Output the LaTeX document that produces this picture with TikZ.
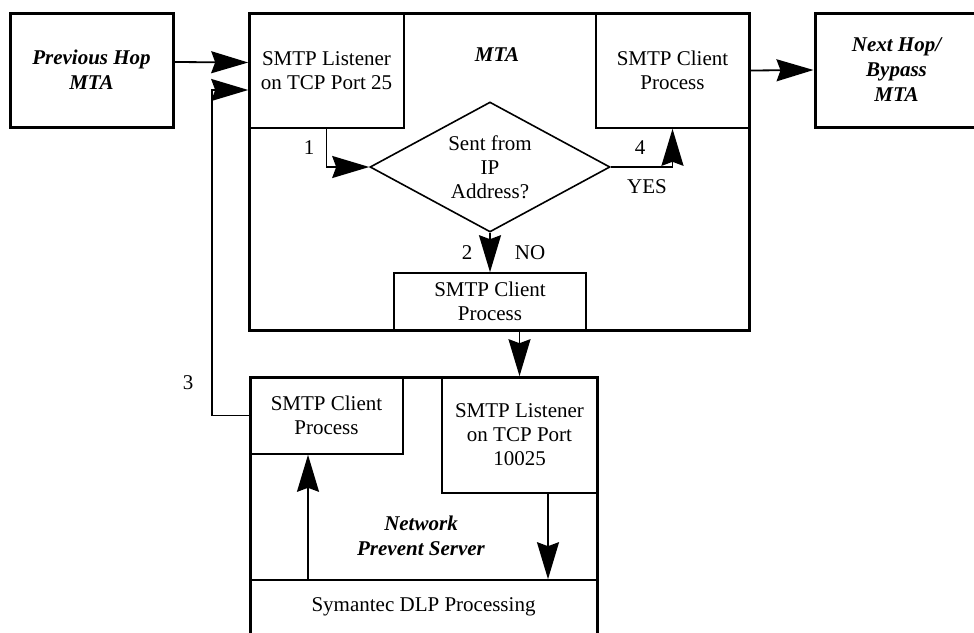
\documentclass[tikz,border=0pt]{standalone}
\usepackage{fontspec}
\setmainfont{Liberation Serif}
\usetikzlibrary{arrows.meta,shapes.geometric}

\begin{document}
\begin{tikzpicture}[
		x=1pt, y=-1pt,
		every node/.style={font=\fontsize{21}{24}\selectfont, align=center, inner sep=0pt},
		outerbox/.style={draw, line width=3pt},
		innerbox/.style={draw, line width=1.6pt},
		title/.style={font=\fontsize{21}{25}\selectfont\bfseries\itshape},
		flow/.style={line width=1.8pt, -{Stealth[length=37pt, width=22pt, inset=4pt]}},
	]
		\useasboundingbox (0,0) rectangle (974,632);

		% outer boxes
		\node[outerbox, title, minimum width=163, minimum height=114] (prevhop) at (91.5,70) {Previous Hop\\MTA};
		\node[outerbox, minimum width=500, minimum height=317] (mta) at (499,171.5) {};
		\node[outerbox, title, minimum width=163, minimum height=114] (nexthop) at (896.5,70) {Next Hop/\\Bypass\\MTA};
		\node[outerbox, minimum width=347, minimum height=257] (nps) at (423.5,505.5) {};

		\node[title] (mtalabel) at (497,55) {MTA};
		\node[title] (npslabel) at (421,536) {Network\\Prevent Server};

		% inside the MTA
		\node[innerbox, minimum width=155, minimum height=115] (listener) at (326.5,70.5) {SMTP Listener\\on TCP Port 25};
		\node[innerbox, minimum width=153, minimum height=115] (clienttop) at (672.5,70.5) {SMTP Client\\Process};
		\node[innerbox, diamond, minimum width=240, minimum height=130, shape aspect=1.85] (decision) at (490,167) {Sent from\\IP\\Address?};
		\node[innerbox, minimum width=192, minimum height=57] (clientmid) at (490,301.5) {SMTP Client\\Process};

		% inside the server
		\node[innerbox, minimum width=153, minimum height=77] (clientlow) at (326.5,415.5) {SMTP Client\\Process};
		\node[innerbox, minimum width=155, minimum height=116] (listenerlow) at (519.5,435) {SMTP Listener\\on TCP Port\\10025};
		\node[innerbox, minimum width=347, minimum height=54] (dlp) at (423.5,607) {Symantec DLP Processing};

		% connectors
		\draw[flow] ([yshift=8pt]prevhop.east) -- ([yshift=8pt]listener.west);
		\draw[flow] (clienttop.east) -- (nexthop.west);
		\draw[flow] (listener.south) |- (decision.west);
		\draw[flow] (decision.east) -| (clienttop.south);
		\draw[flow] (decision.south) -- (clientmid.north);
		\draw[flow] (listenerlow.north |- clientmid.south) -- (listenerlow.north);
		\draw[flow] ([xshift=28.5pt]listenerlow.south) -- ([xshift=28.5pt]listenerlow.south |- dlp.north);
		\draw[flow] ([xshift=-18.5pt]clientlow.south |- dlp.north) -- ([xshift=-18.5pt]clientlow.south);
		\draw[flow] (clientlow.west) -- ++(-37,0) |- ([yshift=-19.5pt]listener.west);

		% step numbers
		\node (one) at (309,148) {1};
		\node (two) at (467,253) {2};
		\node (no) at (530,253) {NO};
		\node (three) at (188,383) {3};
		\node (four) at (640,148) {4};
		\node (yes) at (647,187) {YES};
	\end{tikzpicture}
\end{document}
